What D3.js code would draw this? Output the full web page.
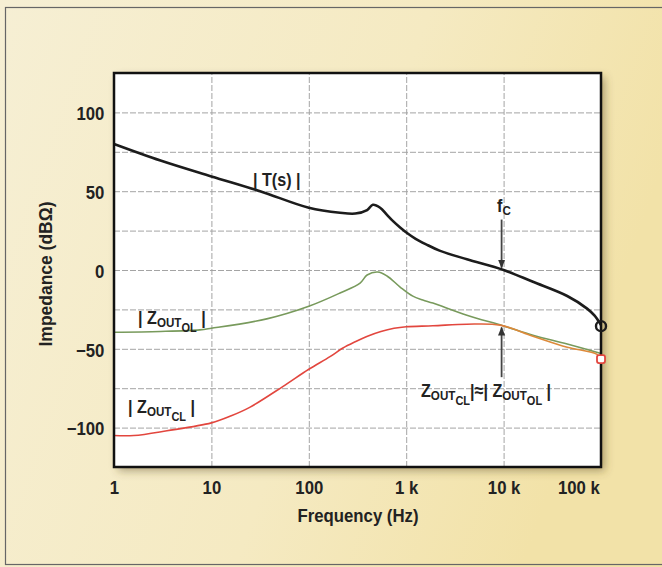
<!DOCTYPE html>
<html>
<head>
<meta charset="utf-8">
<script src="https://cdn.jsdelivr.net/npm/d3@7"></script>
<style>
  body { margin: 0; background: #fff; }
  svg { display: block; font-family: "Liberation Sans", Arial, sans-serif; }
</style>
</head>
<body>
<svg id="chart" width="662" height="567"></svg>
<script>
// data (Hz, dB)
var tFreq = [1, 3, 10, 31.6, 100, 209, 300, 397, 455, 540, 635, 733, 866, 1020, 1250, 1600, 2200, 4200, 1e4, 2e4, 4.5e4, 7.2e4, 8.6e4, 1e5];
var tDb   = [80, 69.5, 59.4, 50, 39.5, 36.3, 35.8, 38, 41.4, 39.5, 35, 31, 27, 23.5, 19.8, 16.3, 12.3, 6.8, 0, -7.5, -16.5, -24.5, -29, -35];

var olFreq = [1, 3, 7.6, 10, 37, 100, 209, 336, 397, 510, 635, 866, 1170, 1480, 1880, 4200, 1e4, 2e4, 4.5e4, 1e5];
var olDb   = [-39.5, -39, -38, -37, -31, -23, -14.6, -8.3, -3.2, -1.3, -3.8, -10.8, -16.6, -19, -21, -28.7, -35.5, -41.4, -47, -53];

var clFreq = [1, 1.6, 3.5, 10, 16, 25, 54, 100, 165, 224, 300, 400, 550, 750, 1000, 1880, 4200, 9200, 2e4, 4.5e4, 9.1e4, 1e5];
var clDb   = [-105, -105, -102, -97, -92.5, -87, -74, -63, -55, -49.5, -45.5, -42, -39, -37, -36, -35.4, -34.4, -35, -42, -49, -53.5, -56.5];

var xTicks = [1, 10, 100, 1e3, 1e4, 1e5];
var xTickLabels = ["1", "10", "100", "1 k", "10 k", "100 k"];
var yTicks = [100, 50, 0, -50, -100];
var yGrid = [100, 75, 50, 25, 0, -25, -50, -75, -100];

var svg = d3.select("#chart");
var pLeft = 114, pRight = 601, pTop = 73, pBottom = 467;

var x = d3.scaleLog().domain([1, 1e5]).range([pLeft, pRight]);
var y = d3.scaleLinear().domain([-125, 125]).range([pBottom, pTop]);

var defs = svg.append("defs");
var bg = defs.append("linearGradient").attr("id", "bg").attr("x1", 0).attr("y1", 0).attr("x2", 1).attr("y2", 0.3);
bg.append("stop").attr("offset", "0%").attr("stop-color", "#f6efd4");
bg.append("stop").attr("offset", "60%").attr("stop-color", "#f5eac2");
bg.append("stop").attr("offset", "100%").attr("stop-color", "#f2e2a8");

var sh = defs.append("filter").attr("id", "shadow").attr("x", "-5%").attr("y", "-5%").attr("width", "115%").attr("height", "115%");
sh.append("feDropShadow").attr("dx", 4).attr("dy", 4).attr("stdDeviation", 4)
  .attr("flood-color", "#5a4a20").attr("flood-opacity", 0.45);

var rg = defs.append("linearGradient").attr("id", "redorange").attr("gradientUnits", "userSpaceOnUse")
  .attr("x1", x(4000)).attr("x2", x(12000)).attr("y1", 0).attr("y2", 0);
rg.append("stop").attr("offset", "0%").attr("stop-color", "#e2463e");
rg.append("stop").attr("offset", "100%").attr("stop-color", "#dd8a3a");

defs.append("marker").attr("id", "arrow").attr("viewBox", "0 0 10 10")
  .attr("refX", 9).attr("refY", 5).attr("markerWidth", 5).attr("markerHeight", 6).attr("orient", "auto")
  .append("path").attr("d", "M0,1 L10,5 L0,9 z").attr("fill", "#333");

// page background + outer border
svg.append("rect").attr("width", 662).attr("height", 567).attr("fill", "url(#bg)");
svg.append("rect").attr("x", 5.5).attr("y", 7.5).attr("width", 660).attr("height", 557)
  .attr("fill", "none").attr("stroke", "#666").attr("stroke-width", 1.2);

// plot area
svg.append("rect").attr("x", pLeft).attr("y", pTop).attr("width", pRight - pLeft).attr("height", pBottom - pTop)
  .attr("fill", "#fff").attr("filter", "url(#shadow)");

// grid
svg.append("g").attr("transform", "translate(" + pLeft + ",0)")
  .call(d3.axisLeft(y).tickValues(yGrid).tickSize(-(pRight - pLeft)).tickFormat(""))
  .call(function(g) { g.select(".domain").remove(); })
  .selectAll("line").attr("stroke", "#a4a4a4").attr("stroke-dasharray", "6,2").attr("stroke-width", 1);

svg.append("g").attr("transform", "translate(0," + pBottom + ")")
  .call(d3.axisBottom(x).tickValues(xTicks.slice(1, -1)).tickSize(-(pBottom - pTop)).tickFormat(""))
  .call(function(g) { g.select(".domain").remove(); })
  .selectAll("line").attr("stroke", "#a4a4a4").attr("stroke-dasharray", "6,2").attr("stroke-width", 1);

// tick labels
var yAxis = svg.append("g").attr("transform", "translate(" + pLeft + ",0)")
  .call(d3.axisLeft(y).tickValues(yTicks).tickSize(0).tickPadding(11)
    .tickFormat(function(d) { return d < 0 ? "\u2212" + Math.abs(d) : d; }));
yAxis.select(".domain").remove();
yAxis.selectAll("text").attr("font-size", 19).attr("font-weight", "bold").attr("fill", "#222")
  .attr("font-family", "Liberation Sans, Arial, sans-serif")
  .attr("transform", "scale(0.88,1)").attr("dy", "0.38em");

var xAxis = svg.append("g").attr("transform", "translate(0," + pBottom + ")")
  .call(d3.axisBottom(x).tickValues(xTicks).tickSize(0).tickPadding(14)
    .tickFormat(function(d, i) { return xTickLabels[i]; }));
xAxis.select(".domain").remove();
xAxis.selectAll("text").attr("font-size", 19).attr("font-weight", "bold").attr("fill", "#222")
  .attr("font-family", "Liberation Sans, Arial, sans-serif")
  .attr("transform", "scale(0.88,1)");
xAxis.selectAll("text").filter(function(d, i) { return i === xTicks.length - 1; })
  .attr("text-anchor", "end").attr("x", -2);

// axis titles
svg.append("text").attr("x", 358).attr("y", 522).attr("text-anchor", "middle")
  .attr("font-size", 19).attr("font-weight", "bold").attr("fill", "#222")
  .attr("textLength", 121).attr("lengthAdjust", "spacingAndGlyphs")
  .text("Frequency (Hz)");
svg.append("text").attr("transform", "translate(52,274) rotate(-90)").attr("text-anchor", "middle")
  .attr("font-size", 19).attr("font-weight", "bold").attr("fill", "#222")
  .attr("textLength", 145).attr("lengthAdjust", "spacingAndGlyphs")
  .text("Impedance (dB\u03a9)");

// curves
var line = d3.line().x(function(d) { return x(d[0]); }).y(function(d) { return y(d[1]); })
  .curve(d3.curveCatmullRom.alpha(0.5));

svg.append("path").datum(d3.zip(olFreq, olDb)).attr("d", line)
  .attr("fill", "none").attr("stroke", "#789a5c").attr("stroke-width", 1.6);
svg.append("path").datum(d3.zip(clFreq, clDb)).attr("d", line)
  .attr("fill", "none").attr("stroke", "url(#redorange)").attr("stroke-width", 1.6);
svg.append("path").datum(d3.zip(tFreq, tDb)).attr("d", line)
  .attr("fill", "none").attr("stroke", "#1c1c1c").attr("stroke-width", 2.6);

// frame
svg.append("rect").attr("x", pLeft).attr("y", pTop).attr("width", pRight - pLeft).attr("height", pBottom - pTop)
  .attr("fill", "none").attr("stroke", "#111").attr("stroke-width", 2.5);

// end markers
svg.append("circle").attr("cx", x(1e5)).attr("cy", y(tDb[tDb.length - 1]) + 1).attr("r", 5)
  .attr("fill", "none").attr("stroke", "#1c1c1c").attr("stroke-width", 2.4);
svg.append("rect").attr("x", x(1e5) - 4).attr("y", y(clDb[clDb.length - 1]) - 4).attr("width", 8).attr("height", 8)
  .attr("rx", 2).attr("fill", "#fff").attr("stroke", "#e2463e").attr("stroke-width", 1.8);

// annotation arrows
svg.append("line").attr("x1", x(1e4) - 2).attr("x2", x(1e4) - 2).attr("y1", y(32)).attr("y2", y(1.5))
  .attr("stroke", "#444").attr("stroke-width", 1.8).attr("marker-end", "url(#arrow)");
svg.append("line").attr("x1", x(1e4) - 2).attr("x2", x(1e4) - 2).attr("y1", y(-68)).attr("y2", y(-36.5))
  .attr("stroke", "#444").attr("stroke-width", 1.8).attr("marker-end", "url(#arrow)");

// labels with nested subscripts: [text, level]
function richText(px, py, parts, fs) {
  var t = svg.append("text").attr("transform", "translate(" + px + "," + py + ") scale(0.85,1)")
    .attr("font-size", fs).attr("font-weight", "bold").attr("fill", "#222");
  var cur = 0;
  parts.forEach(function(p) {
    var off = [0, 0.18 * fs, 0.42 * fs][p[1]];
    var size = [fs, fs * 0.72, fs * 0.68][p[1]];
    t.append("tspan").attr("dy", off - cur).attr("font-size", size).text(p[0]);
    cur = off;
  });
  return t;
}

richText(253, 186, [["| T(s) |", 0]], 19);
richText(497, 212, [["f", 0], ["C", 1]], 19);
richText(138, 324, [["| Z", 0], ["OUT", 1], ["OL", 2], [" |", 0]], 19);
richText(128, 413, [["| Z", 0], ["OUT", 1], ["CL", 2], [" |", 0]], 19);
richText(421, 397, [["Z", 0], ["OUT", 1], ["CL", 2], ["|\u2248| Z", 0], ["OUT", 1], ["OL", 2], [" |", 0]], 19);
</script>
</body>
</html>
